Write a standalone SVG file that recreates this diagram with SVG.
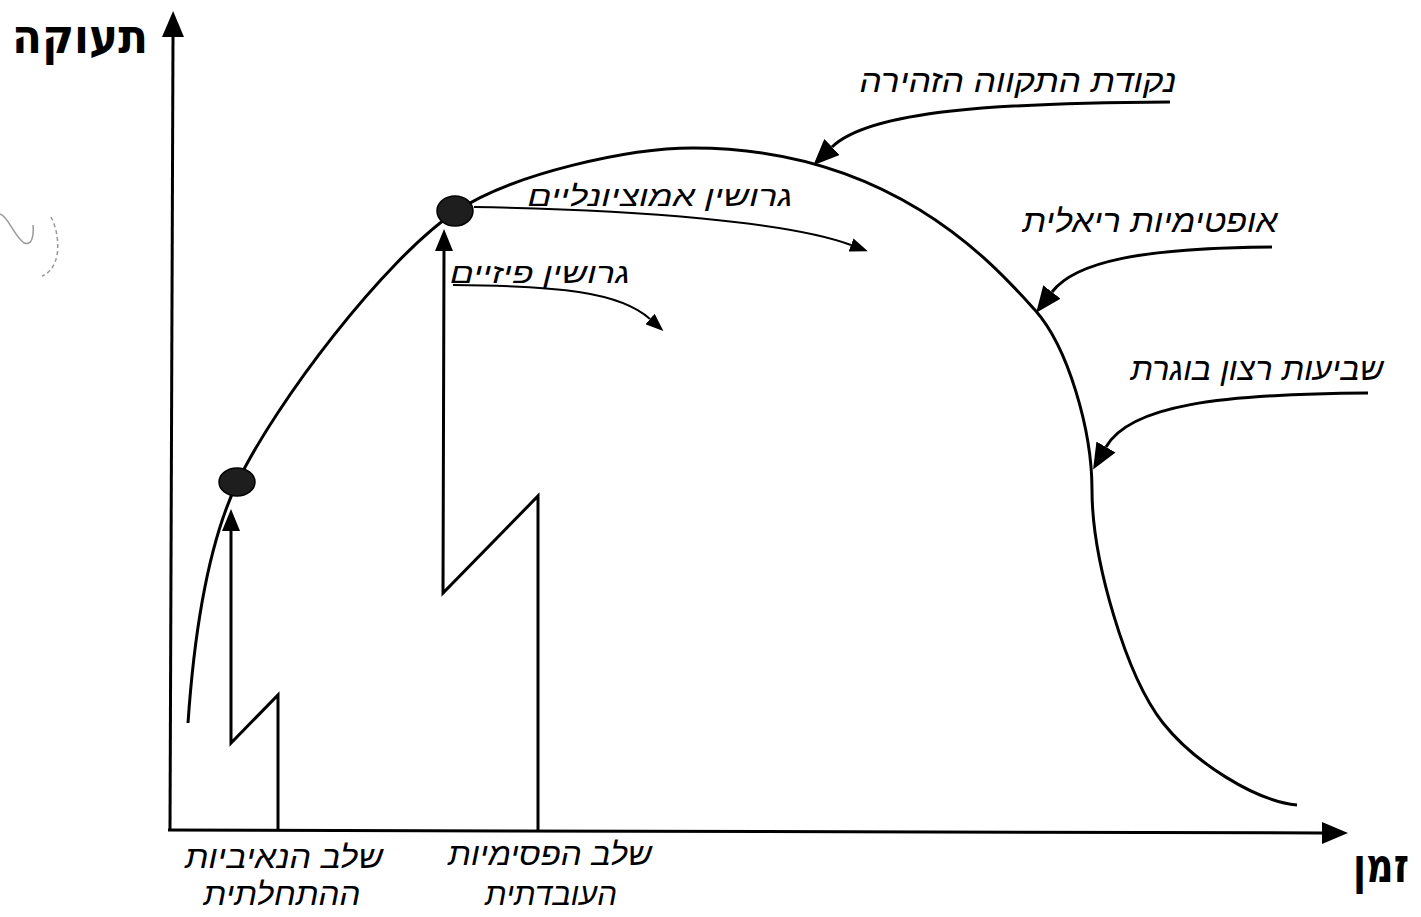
<svg xmlns="http://www.w3.org/2000/svg" width="1421" height="917" viewBox="0 0 1421 917">
<style>
  .ln { fill: none; stroke: #000; stroke-width: 3; stroke-linecap: butt; stroke-linejoin: miter; }
  .thin { fill: none; stroke: #000; stroke-width: 2; }
  .lbl { font-family: "Liberation Sans", "DejaVu Sans", sans-serif; font-style: italic; fill: #000; text-anchor: middle; }
  .ax { font-family: "DejaVu Sans", "Liberation Sans", sans-serif; font-weight: bold; fill: #000; text-anchor: middle; font-size: 48px; }
  .dot { fill: #1e1e1e; stroke: #000; stroke-width: 1.5; }
</style>
<defs>
  <marker id="big" markerUnits="userSpaceOnUse" markerWidth="26" markerHeight="22" viewBox="0 0 26 22" refX="0" refY="11" orient="auto">
    <path d="M0,0 L26,11 L0,22 z" fill="#000"/>
  </marker>
  <marker id="mid" markerUnits="userSpaceOnUse" markerWidth="22" markerHeight="18" viewBox="0 0 22 18" refX="0" refY="9" orient="auto">
    <path d="M0,0 L22,9 L0,18 z" fill="#000"/>
  </marker>
  <marker id="small" markerUnits="userSpaceOnUse" markerWidth="18" markerHeight="14" viewBox="0 0 18 14" refX="0" refY="7" orient="auto">
    <path d="M0,0 L18,7 L0,14 z" fill="#000"/>
  </marker>
</defs>
<rect width="1421" height="917" fill="#fff"/>

<!-- faint scan mark -->
<g id="scan-mark" fill="none" stroke="#9a9a9a" stroke-width="1.5">
  <path d="M0,214 C8,216 14,236 24,243 C32,246 34,236 33,225"/>
  <path d="M51,217 C58,230 60,250 55,262 C52,270 47,274 42,276" stroke-dasharray="4 3"/>
</g>

<!-- axes -->
<g id="axes">
  <path class="ln" d="M170,831 L173,37" marker-end="url(#big)"/>
  <path class="ln" d="M168,830 L1322,833" marker-end="url(#big)"/>
  <text class="ax" x="80" y="53" textLength="136" lengthAdjust="spacingAndGlyphs">תעוקה</text>
  <text class="ax" x="1381" y="882" textLength="56" lengthAdjust="spacingAndGlyphs">זמן</text>
</g>

<!-- main desire curve -->
<g id="curve">
  <path class="ln" d="M188,723 C195,620 210,540 237,483 C276,402 384,260 455,212 C513,173 630,148 693,148 C893,148 995,266 1035,310 C1068,347 1092,430 1092,490 C1092,560 1126,676 1163,723 C1194,762 1255,801 1297,805"/>
</g>

<!-- zigzag stages -->
<g id="stage-naive">
  <path class="ln" d="M278,831 L278,695 L231,743 L231,531" marker-end="url(#mid)"/>
</g>
<g id="stage-pessimism">
  <path class="ln" d="M538,831 L538,496 L443,593 L444,251" marker-end="url(#mid)"/>
</g>

<!-- points on curve -->
<g id="point-1"><ellipse class="dot" cx="237" cy="482" rx="18" ry="14"/></g>
<g id="point-2"><ellipse class="dot" cx="455" cy="211" rx="18" ry="15"/></g>

<!-- connectors -->
<g id="connectors">
  <path class="ln" d="M1170,102 C1000,103 870,110 832,147" marker-end="url(#big)"/>
  <path class="ln" d="M1272,247 C1140,248 1075,262 1052,292" marker-end="url(#big)"/>
  <path class="ln" d="M1368,393 C1220,394 1130,405 1106,447" marker-end="url(#big)"/>
  <path class="thin" d="M474,207 C640,210 790,222 851,245" marker-end="url(#small)"/>
  <path class="thin" d="M453,285 C560,286 620,292 650,319" marker-end="url(#small)"/>
</g>

<!-- labels -->
<g id="label-hope">
  <text class="lbl" x="1018" y="92" font-size="32" textLength="317" lengthAdjust="spacingAndGlyphs">נקודת התקווה הזהירה</text>
</g>
<g id="label-realistic">
  <text class="lbl" x="1150" y="232" font-size="32" textLength="255" lengthAdjust="spacingAndGlyphs">אופטימיות ריאלית</text>
</g>
<g id="label-satisfaction">
  <text class="lbl" x="1257" y="380" font-size="32" textLength="253" lengthAdjust="spacingAndGlyphs">שביעות רצון בוגרת</text>
</g>
<g id="label-emotional">
  <text class="lbl" x="660" y="206" font-size="28" textLength="265" lengthAdjust="spacingAndGlyphs">גרושין אמוציונליים</text>
</g>
<g id="label-physical">
  <text class="lbl" x="540" y="283" font-size="28" textLength="180" lengthAdjust="spacingAndGlyphs">גרושין פיזיים</text>
</g>
<g id="label-naive">
  <text class="lbl" x="284" y="868" font-size="31" textLength="198" lengthAdjust="spacingAndGlyphs">שלב הנאיביות</text>
  <text class="lbl" x="282" y="905" font-size="31" textLength="157" lengthAdjust="spacingAndGlyphs">ההתחלתית</text>
</g>
<g id="label-pessimism">
  <text class="lbl" x="550" y="865" font-size="31" textLength="204" lengthAdjust="spacingAndGlyphs">שלב הפסימיות</text>
  <text class="lbl" x="551" y="905" font-size="31" textLength="132" lengthAdjust="spacingAndGlyphs">העובדתית</text>
</g>
</svg>
